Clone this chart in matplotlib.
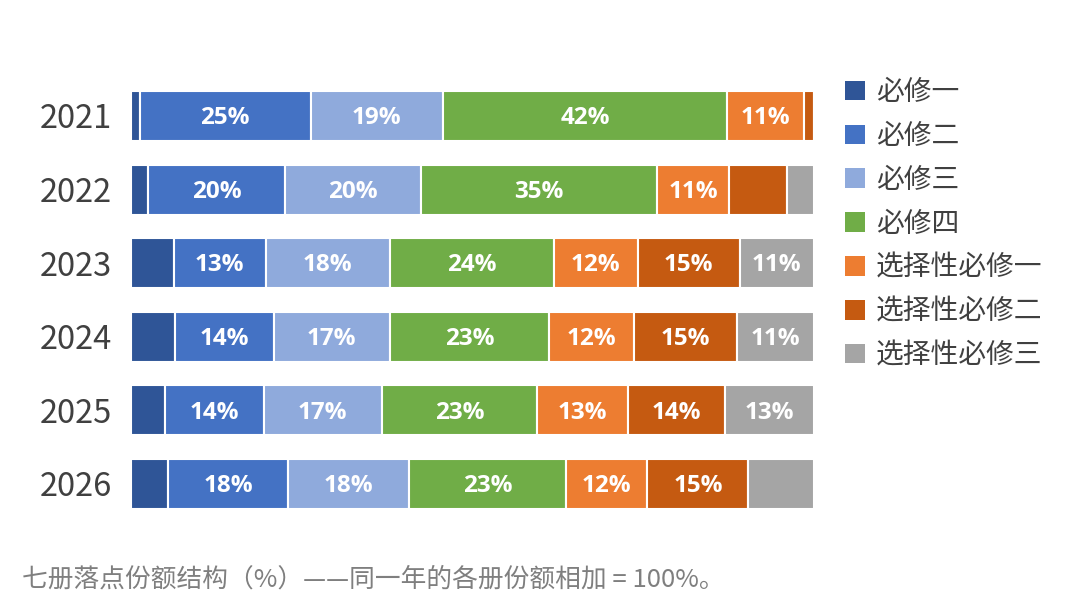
import numpy as np
import matplotlib
matplotlib.use("Agg")
import matplotlib.pyplot as plt
from matplotlib.patches import Patch

plt.rcParams['font.family'] = ['Noto Sans CJK SC', 'DejaVu Sans']

# datos
years = ['2021', '2022', '2023', '2024', '2025', '2026']
series = ['必修一', '必修二', '必修三', '必修四', '选择性必修一', '选择性必修二', '选择性必修三']
bx1 = [1.3, 2.5, 6.3, 6.5, 5.0, 5.4]
bx2 = [25.0, 20.1, 13.4, 14.4, 14.4, 17.6]
bx3 = [19.4, 19.8, 18.2, 17.0, 17.3, 17.7]
bx4 = [41.6, 34.6, 24.0, 23.3, 22.8, 23.0]
xz1 = [11.2, 10.6, 12.3, 12.4, 13.3, 11.9]
xz2 = [1.5, 8.4, 14.9, 15.1, 14.2, 14.8]
xz3 = [0.0, 4.0, 10.9, 11.3, 13.0, 9.6]
colors = ['#2F5597', '#4472C4', '#8FAADC', '#70AD47', '#ED7D31', '#C55A11', '#A5A5A5']
footer = '七册落点份额结构（%）——同一年的各册份额相加 = 100%。'

data = np.array([bx1, bx2, bx3, bx4, xz1, xz2, xz3])

fig = plt.figure(figsize=(10.8, 6.15), dpi=100)
ax = fig.add_axes([131 / 1080, 1 - 520.8 / 615, 683 / 1080, 441.6 / 615])

y = np.arange(len(years))
left = np.zeros(len(years))
for i, name in enumerate(series):
    vals = data[i]
    ax.barh(y, vals, left=left, height=0.68, color=colors[i],
            edgecolor='white', linewidth=1.5, label=name)
    for j, v in enumerate(vals):
        if v >= 10:
            ax.text(left[j] + v / 2, y[j] + 0.03, f'{v:.0f}%', ha='center', va='center',
                    color='white', fontsize=17.5, fontweight='bold',
                    family=['Open Sans', 'DejaVu Sans'])
    left += vals

ax.set_xlim(0, 100)
ax.set_ylim(5.5, -0.5)
ax.set_yticks(y)
ax.set_yticklabels(years, fontsize=23.5, color='#404040')
ax.tick_params(axis='y', length=0, pad=14)
ax.set_xticks([])
for s in ax.spines.values():
    s.set_visible(False)

handles = [Patch(facecolor=c, edgecolor='none') for c in colors]
fig.legend(handles, series, loc='upper left', bbox_to_anchor=(834 / 1080, 1 - 66 / 615),
           frameon=False, fontsize=20, labelcolor='#404040', handlelength=0.7,
           handleheight=0.7, handletextpad=0.4, labelspacing=0.5, borderaxespad=0)

fig.text(22 / 1080, 1 - 580 / 615, footer, fontsize=18.5, color='#7F7F7F', va='center')

fig.savefig('out.png', dpi=100)
